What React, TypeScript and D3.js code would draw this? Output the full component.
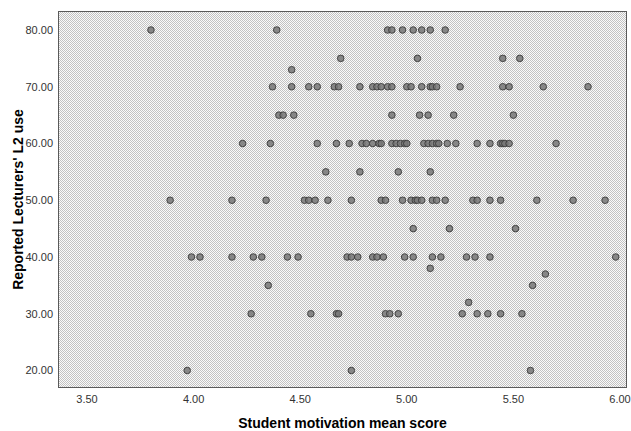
import React from "react";
import * as d3 from "d3";

const yLevels = [80, 75, 73, 70, 65, 60, 55, 50, 45, 40, 38, 37, 35, 32, 30, 20];

const motivation80 = [3.80, 4.39, 4.91, 4.93, 4.98, 5.03, 5.07, 5.11, 5.18];
const motivation75 = [4.69, 5.05, 5.45, 5.53];
const motivation73 = [4.46];
const motivation70 = [4.37, 4.46, 4.54, 4.58, 4.66, 4.68, 4.78, 4.84, 4.86, 4.88, 4.91, 4.93, 5.00, 5.02, 5.07, 5.11, 5.12, 5.14, 5.25, 5.45, 5.48, 5.64, 5.85];
const motivation65 = [4.40, 4.42, 4.47, 4.93, 5.06, 5.10, 5.22, 5.50];
const motivation60 = [4.23, 4.36, 4.58, 4.67, 4.73, 4.79, 4.81, 4.84, 4.87, 4.88, 4.93, 4.95, 4.97, 4.99, 5.00, 5.08, 5.10, 5.12, 5.14, 5.15, 5.19, 5.23, 5.33, 5.39, 5.44, 5.45, 5.46, 5.48, 5.70];
const motivation55 = [4.62, 4.78, 4.96, 5.11];
const motivation50 = [3.89, 4.18, 4.34, 4.52, 4.54, 4.57, 4.63, 4.74, 4.88, 4.90, 4.98, 5.02, 5.04, 5.05, 5.07, 5.12, 5.14, 5.18, 5.31, 5.33, 5.39, 5.44, 5.61, 5.78, 5.93];
const motivation45 = [5.03, 5.20, 5.51];
const motivation40 = [3.99, 4.03, 4.18, 4.28, 4.32, 4.44, 4.49, 4.72, 4.74, 4.77, 4.84, 4.86, 4.89, 4.99, 5.03, 5.12, 5.16, 5.28, 5.32, 5.39, 5.98];
const motivation38 = [5.11];
const motivation37 = [5.65];
const motivation35 = [4.35, 5.59];
const motivation32 = [5.29];
const motivation30 = [4.27, 4.55, 4.67, 4.68, 4.90, 4.92, 4.96, 5.26, 5.33, 5.38, 5.44, 5.54];
const motivation20 = [3.97, 4.74, 5.58];

const motivationByLevel = [
  motivation80, motivation75, motivation73, motivation70, motivation65, motivation60,
  motivation55, motivation50, motivation45, motivation40, motivation38, motivation37,
  motivation35, motivation32, motivation30, motivation20,
];

const xTicks = [3.5, 4.0, 4.5, 5.0, 5.5, 6.0];
const yTicks = [20, 30, 40, 50, 60, 70, 80];

const W = 631;
const H = 431;
const left = 58;
const right = 627;
const top = 11;
const bottom = 388;

export default function App() {
  const x = d3.scaleLinear().domain([3.5, 6.0]).range([87, 620]);
  const y = d3.scaleLinear().domain([20, 80]).range([370.5, 30]);

  const points: { mx: number; ly: number }[] = [];
  yLevels.forEach((lv, i) => {
    motivationByLevel[i].forEach((m) => points.push({ mx: m, ly: lv }));
  });

  const font = "'Liberation Sans', Arial, sans-serif";

  return (
    <svg width={W} height={H} style={{ position: "absolute", left: 0, top: 0, display: "block" }}>
      <defs>
        <pattern id="dots" x={0} y={0} width={2} height={2} patternUnits="userSpaceOnUse">
          <rect x={0} y={0} width={2} height={2} fill="#fafafa" />
          <rect x={0} y={0} width={1} height={1} fill="#c2c2c2" />
          <rect x={1} y={1} width={1} height={1} fill="#c2c2c2" />
        </pattern>
      </defs>
      <rect x={0} y={0} width={W} height={H} fill="#ffffff" />
      <rect x={left} y={top} width={right - left} height={bottom - top} fill="url(#dots)" />
      <rect x={left + 0.5} y={top + 0.5} width={right - left - 1} height={bottom - top - 1}
        fill="none" stroke="#5a5a5a" strokeWidth={1} />
      {points.map((p, i) => (
        <circle key={i} cx={x(p.mx)} cy={y(p.ly)} r={3.3}
          fill="#777777" fillOpacity={0.85} stroke="#3a3a3a" strokeWidth={0.9} />
      ))}
      {yTicks.map((t) => (
        <text key={t} x={53} y={y(t)} dy="0.35em" textAnchor="end"
          fontFamily={font} fontSize={11} fill="#333">
          {t.toFixed(2)}
        </text>
      ))}
      {xTicks.map((t) => (
        <text key={t} x={x(t)} y={399} dy="0.35em" textAnchor="middle"
          fontFamily={font} fontSize={11} fill="#333">
          {t.toFixed(2)}
        </text>
      ))}
      <text x={(left + right) / 2} y={423} dy="0.35em" textAnchor="middle"
        fontFamily={font} fontSize={14} fontWeight="bold" fill="#000">
        Student motivation mean score
      </text>
      <text transform={`translate(18,${(top + bottom) / 2}) rotate(-90)`} dy="0.35em"
        textAnchor="middle" fontFamily={font} fontSize={14} fontWeight="bold" fill="#000">
        Reported Lecturers' L2 use
      </text>
    </svg>
  );
}
